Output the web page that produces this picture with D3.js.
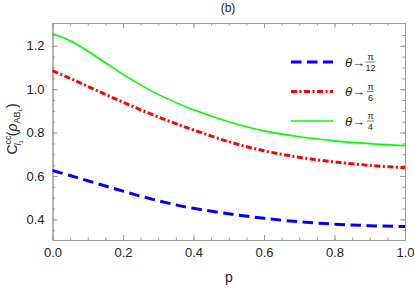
<!DOCTYPE html>
<html>
<head>
<meta charset="utf-8">
<script src="https://cdn.jsdelivr.net/npm/d3@7"></script>
<style>
  body { margin: 0; background: #fff; }
  text { font-family: "Liberation Sans", Arial, sans-serif; }
</style>
</head>
<body>
<div id="container"></div>
<script>
/* CONSTANTS AND GLOBALS */
const width = 415,
  height = 290,
  margin = { top: 23, bottom: 50, left: 52.5, right: 10 };

// p values and the three curves
const pValues = [0, 0.05, 0.1, 0.15, 0.2, 0.25, 0.3, 0.35, 0.4, 0.5, 0.6, 0.7, 0.8, 0.9, 1.0];
const seriesPi12 = [0.625, 0.602, 0.578, 0.554, 0.530, 0.507, 0.486, 0.467, 0.451, 0.426, 0.405, 0.389, 0.378, 0.371, 0.367];
const seriesPi6 = [1.085, 1.050, 1.013, 0.976, 0.940, 0.905, 0.872, 0.841, 0.812, 0.758, 0.716, 0.686, 0.665, 0.649, 0.638];
const seriesPi4 = [1.255, 1.223, 1.175, 1.122, 1.068, 1.020, 0.976, 0.938, 0.905, 0.850, 0.808, 0.781, 0.762, 0.749, 0.740];

const legendDenoms = ["12", "6", "4"];
const xTicks = [0, 0.2, 0.4, 0.6, 0.8, 1.0];
const yTicks = [0.4, 0.6, 0.8, 1.0, 1.2];

const series = [
  { values: seriesPi12, color: "#0000ff", width: 3, dash: "10.5,5.5", denom: legendDenoms[0] },
  { values: seriesPi6, color: "#ff0000", width: 3, dash: "6,2.5,2,2.5", denom: legendDenoms[1] },
  { values: seriesPi4, color: "#00ff00", width: 1.6, dash: null, denom: legendDenoms[2] }
];

const svg = d3.select("#container")
  .append("svg")
  .attr("width", width)
  .attr("height", height);

// + SCALES
const xScale = d3.scaleLinear()
  .domain([0, 1])
  .range([margin.left, width - margin.right]);

const yScale = d3.scaleLinear()
  .domain([0.305, 1.305])
  .range([height - margin.bottom, margin.top]);

const frameColor = "#999";
const minorX = d3.range(0, 1.0001, 0.05);
const minorY = d3.range(0.35, 1.30, 0.05);

// + AXES (frame on all four sides)
const axes = [
  d3.axisBottom(xScale).tickValues(xTicks).tickFormat(d3.format(".1f")).tickSizeInner(-5).tickSizeOuter(0).tickPadding(8),
  d3.axisTop(xScale).tickValues(xTicks).tickFormat("").tickSizeInner(-5).tickSizeOuter(0),
  d3.axisLeft(yScale).tickValues(yTicks).tickFormat(d3.format(".1f")).tickSizeInner(-5).tickSizeOuter(0).tickPadding(8),
  d3.axisRight(yScale).tickValues(yTicks).tickFormat("").tickSizeInner(-5).tickSizeOuter(0)
];
const minorAxes = [
  d3.axisBottom(xScale).tickValues(minorX).tickFormat("").tickSizeInner(-2.5).tickSizeOuter(0),
  d3.axisTop(xScale).tickValues(minorX).tickFormat("").tickSizeInner(-2.5).tickSizeOuter(0),
  d3.axisLeft(yScale).tickValues(minorY).tickFormat("").tickSizeInner(-2.5).tickSizeOuter(0),
  d3.axisRight(yScale).tickValues(minorY).tickFormat("").tickSizeInner(-2.5).tickSizeOuter(0)
];
const transforms = [
  `translate(0,${height - margin.bottom})`,
  `translate(0,${margin.top})`,
  `translate(${margin.left},0)`,
  `translate(${width - margin.right},0)`
];

axes.forEach((ax, i) => {
  [minorAxes[i], ax].forEach(a => {
    const g = svg.append("g").attr("transform", transforms[i]).call(a);
    g.select(".domain").attr("stroke", frameColor);
    g.selectAll(".tick line").attr("stroke", frameColor);
    g.selectAll(".tick text")
      .attr("fill", "#222")
      .style("font-size", "13px")
      .style("font-family", "Liberation Sans, Arial, sans-serif");
  });
});

// + CURVES
const line = d3.line()
  .x((d, i) => xScale(pValues[i]))
  .y(d => yScale(d))
  .curve(d3.curveCatmullRom.alpha(0.5));

series.forEach(s => {
  svg.append("path")
    .datum(s.values)
    .attr("fill", "none")
    .attr("stroke", s.color)
    .attr("stroke-width", s.width)
    .attr("stroke-dasharray", s.dash)
    .attr("d", line);
});

// + LEGEND
const legend = svg.append("g").attr("transform", "translate(291,62)");
series.forEach((s, i) => {
  const g = legend.append("g").attr("transform", `translate(0,${i * 29.5})`);
  g.append("line")
    .attr("x1", 0).attr("x2", 42)
    .attr("stroke", s.color)
    .attr("stroke-width", s.width)
    .attr("stroke-dasharray", s.dash);
  g.append("text")
    .attr("x", 54).attr("y", 4.5)
    .style("font-size", "13px")
    .style("font-style", "italic")
    .attr("fill", "#222")
    .text("θ");
  g.append("text")
    .attr("x", 61).attr("y", 4.5)
    .style("font-size", "13px")
    .attr("fill", "#222")
    .text("→");
  const fx = 79.5;
  g.append("text")
    .attr("x", fx).attr("y", -2)
    .attr("text-anchor", "middle")
    .style("font-size", "9px")
    .attr("fill", "#222")
    .text("π");
  g.append("line")
    .attr("x1", fx - (s.denom.length > 1 ? 5 : 3.5)).attr("x2", fx + (s.denom.length > 1 ? 5 : 3.5))
    .attr("y1", 0).attr("y2", 0)
    .attr("stroke", "#222").attr("stroke-width", 0.6);
  g.append("text")
    .attr("x", fx).attr("y", 9)
    .attr("text-anchor", "middle")
    .style("font-size", "9px")
    .attr("fill", "#222")
    .text(s.denom);
});

// + TITLES
svg.append("text")
  .attr("x", 228).attr("y", 12)
  .attr("text-anchor", "middle")
  .style("font-size", "12px")
  .attr("fill", "#222")
  .text("(b)");

svg.append("text")
  .attr("x", 229).attr("y", 282)
  .attr("text-anchor", "middle")
  .style("font-size", "14px")
  .attr("fill", "#222")
  .text("p");

const yLabel = svg.append("text")
  .attr("transform", "translate(17,129) rotate(-90)")
  .attr("text-anchor", "middle")
  .style("font-size", "14px")
  .attr("fill", "#222");
yLabel.append("tspan").text("C");
yLabel.append("tspan").attr("dy", -6).style("font-size", "9px").text("cc");
yLabel.append("tspan").attr("dx", -10).attr("dy", 10).style("font-size", "9px").style("font-style", "italic").text("l");
yLabel.append("tspan").attr("dy", 2).style("font-size", "6px").text("1");
yLabel.append("tspan").attr("dx", 4).attr("dy", -6).text("(");
yLabel.append("tspan").style("font-style", "italic").text("ρ");
yLabel.append("tspan").attr("dy", 3).style("font-size", "9px").text("AB");
yLabel.append("tspan").attr("dy", 2).style("font-size", "6px").text("L");
yLabel.append("tspan").attr("dy", -5).text(")");
</script>
</body>
</html>
